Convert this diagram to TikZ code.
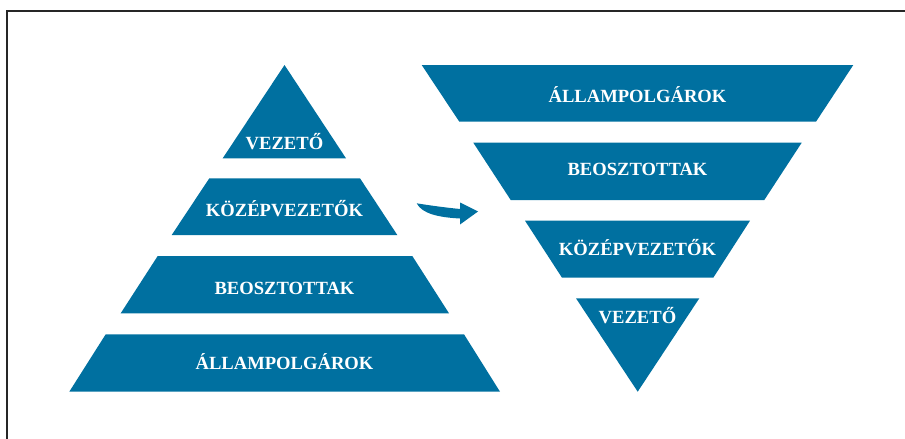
\documentclass[tikz,border=0pt]{standalone}
\usepackage{fontspec}
\setmainfont{Liberation Serif}
\definecolor{tierblue}{RGB}{0,112,160}
\tikzset{
  tier/.style={fill=tierblue,draw=none},
  tierlabel/.style={text=white,font=\fontsize{9.3}{11}\selectfont\bfseries,anchor=base,inner sep=0pt},
}
\begin{document}
\begin{tikzpicture}[x=0.5pt,y=-0.5pt]
\useasboundingbox (0,0) rectangle (905,439);
% Frame
\draw[line width=1pt,black!85] (7,439) -- (7,11) -- (905,11);
% Pyramid
\fill[tier] (284.5,65) -- (346,158.3) -- (222.7,158.3) -- cycle;
\fill[tier] (209.3,178.3) -- (360,178.3) -- (397.3,235) -- (171.7,235) -- cycle;
\fill[tier] (157.7,256) -- (412.3,256) -- (449,313.3) -- (120.7,313.3) -- cycle;
\fill[tier] (105.7,334.3) -- (464,334.3) -- (500,391.7) -- (69.3,391.7) -- cycle;
\node[tierlabel] (lvez) at (284.5,149) {VEZETŐ};
\node[tierlabel] (lkoz) at (284.5,216.7) {KÖZÉPVEZETŐK};
\node[tierlabel] (lbeo) at (284.5,294) {BEOSZTOTTAK};
\node[tierlabel] (lall) at (284.5,369.3) {ÁLLAMPOLGÁROK};
% Inverted pyramid
\fill[tier] (421.7,65) -- (853.3,65) -- (816,121.7) -- (459.3,121.7) -- cycle;
\fill[tier] (473.3,142.7) -- (801.7,142.7) -- (764.3,200) -- (510.7,200) -- cycle;
\fill[tier] (525,220.7) -- (750,220.7) -- (713.3,277.7) -- (562,277.7) -- cycle;
\fill[tier] (576,298.3) -- (699.3,298.3) -- (637.7,391.7) -- cycle;
\node[tierlabel] (rall) at (637.5,102.7) {ÁLLAMPOLGÁROK};
\node[tierlabel] (rbeo) at (637.5,175) {BEOSZTOTTAK};
\node[tierlabel] (rkoz) at (637.5,255.7) {KÖZÉPVEZETŐK};
\node[tierlabel] (rvez) at (637.5,323.3) {VEZETŐ};
% Arrow
\fill[tier] (416.7,203.3) .. controls (430,205.5) and (445,207.5) .. (460,209)
  -- (460,202.5) -- (478,211.5) -- (460,224.5) -- (460,218.5)
  .. controls (440,217.5) and (422,214) .. cycle;
\end{tikzpicture}
\end{document}
